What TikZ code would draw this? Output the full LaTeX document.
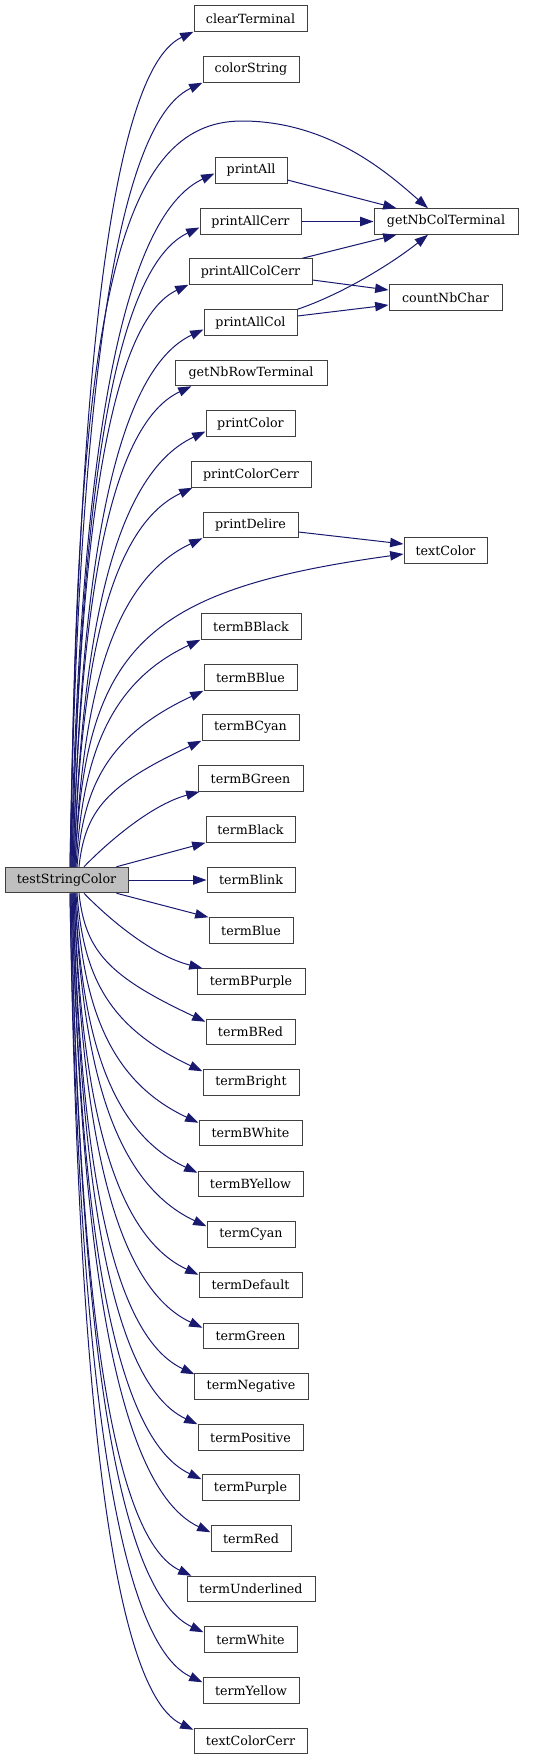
\documentclass[tikz,border=0pt]{standalone}
\usepackage{fontspec}
\setmainfont{DejaVu Serif}
\usetikzlibrary{arrows.meta,calc}
\definecolor{edgecol}{HTML}{191970}
\definecolor{nodeborder}{HTML}{404040}
\definecolor{srcfill}{HTML}{BFBFBF}
% fan edge: #1 start, #2 end, #3 = 1 (target above) or -1 (target below)
\newcommand\fanedge[3]{%
  \draw[calls] let \p1=(#1), \p2=(#2) in (\p1) .. controls ({\x1+0.05*(\x2-\x1)},{\y1+0.45*(\y2-\y1)}) and ({\x2-0.77*(\x2-\x1)},{\y2-(#3)*0.36*(\x2-\x1)}) .. (\p2);}
\begin{document}
\begin{tikzpicture}[x=0.75pt,y=-0.75pt,
  fn/.style={draw=nodeborder, line width=0.75pt, fill=white, rectangle,
    minimum height=25.5*0.75pt, inner sep=0pt, minimum width=#1*0.75pt,
    font=\fontsize{9.5pt}{11pt}\selectfont},
  calls/.style={draw=edgecol, line width=0.75pt, -{Triangle[length=10pt,width=7pt]}}]
\useasboundingbox (0,0) rectangle (533,1760);
% nodes
\node[fn=123, fill=srcfill] (src) at (66.5,880) {testStringColor};
\node[fn=113] (clearTerminal) at (250.5,18.5) {clearTerminal};
\node[fn=96] (colorString) at (251,69.5) {colorString};
\node[fn=72] (printAll) at (251,170.5) {printAll};
\node[fn=101] (printAllCerr) at (250.5,221.5) {printAllCerr};
\node[fn=144] (getNbColTerminal) at (446,221.5) {getNbColTerminal};
\node[fn=123] (printAllColCerr) at (250.5,271.5) {printAllColCerr};
\node[fn=113] (countNbChar) at (445.5,297.5) {countNbChar};
\node[fn=93] (printAllCol) at (250.5,322.5) {printAllCol};
\node[fn=152] (getNbRowTerminal) at (251,373) {getNbRowTerminal};
\node[fn=89] (printColor) at (250.5,423.5) {printColor};
\node[fn=120] (printColorCerr) at (251,474.5) {printColorCerr};
\node[fn=95] (printDelire) at (250.5,525) {printDelire};
\node[fn=83] (textColor) at (445.5,550.5) {textColor};
\node[fn=100] (termBBlack) at (251,626.5) {termBBlack};
\node[fn=93] (termBBlue) at (250.5,677.5) {termBBlue};
\node[fn=97] (termBCyan) at (250.5,727.5) {termBCyan};
\node[fn=105] (termBGreen) at (250.5,778.5) {termBGreen};
\node[fn=89] (termBlack) at (250.5,829.5) {termBlack};
\node[fn=88] (termBlink) at (251,880) {termBlink};
\node[fn=84] (termBlue) at (251,930.5) {termBlue};
\node[fn=108] (termBPurple) at (251,981.5) {termBPurple};
\node[fn=89] (termBRed) at (250.5,1032) {termBRed};
\node[fn=96] (termBright) at (251,1082.5) {termBright};
\node[fn=103] (termBWhite) at (250.5,1133) {termBWhite};
\node[fn=105] (termBYellow) at (250.5,1184) {termBYellow};
\node[fn=88] (termCyan) at (251,1234.5) {termCyan};
\node[fn=103] (termDefault) at (250.5,1285) {termDefault};
\node[fn=95] (termGreen) at (250.5,1336) {termGreen};
\node[fn=114] (termNegative) at (251,1386.5) {termNegative};
\node[fn=105] (termPositive) at (250.5,1437.5) {termPositive};
\node[fn=97] (termPurple) at (250.5,1487.5) {termPurple};
\node[fn=80] (termRed) at (251,1538.5) {termRed};
\node[fn=128] (termUnderlined) at (251,1589) {termUnderlined};
\node[fn=93] (termWhite) at (250.5,1639.5) {termWhite};
\node[fn=96] (termYellow) at (251,1690.5) {termYellow};
\node[fn=113] (textColorCerr) at (250.5,1741) {textColorCerr};
% upward fan
\fanedge{$(src.north)+(3.5,0)$}{clearTerminal.south west}{1}
\fanedge{$(src.north)+(3.5,0)$}{colorString.south west}{1}
\fanedge{$(src.north)+(4.5,0)$}{$(printAll.west)+(0,3)$}{1}
\fanedge{$(src.north)+(5.5,0)$}{$(printAllCerr.west)+(0,6)$}{1}
\fanedge{$(src.north)+(5.5,0)$}{printAllColCerr.south west}{1}
\fanedge{$(src.north)+(6.5,0)$}{$(printAllCol.west)+(0,7)$}{1}
\fanedge{$(src.north)+(6.5,0)$}{$(getNbRowTerminal.south west)+(17,0)$}{1}
\fanedge{$(src.north)+(7.5,0)$}{$(printColor.west)+(0,8)$}{1}
\fanedge{$(src.north)+(7.5,0)$}{$(printColorCerr.south west)+(2,0)$}{1}
\fanedge{$(src.north)+(8.5,0)$}{printDelire.south west}{1}
\fanedge{$(src.north)+(9.5,0)$}{termBBlack.south west}{1}
\fanedge{$(src.north)+(10.5,0)$}{termBBlue.south west}{1}
\fanedge{$(src.north)+(12.5,0)$}{termBCyan.south west}{1}
\draw[calls] ($(src.north)+(4.5,0)$) .. controls (75,300) and (120,121) .. (242,121)
  .. controls (330,121) and (390,175) .. ($(getNbColTerminal.north)+(-18,0)$);
\draw[calls] ($(src.north)+(8.5,0)$) .. controls (85,650) and (140,590) .. ($(textColor.west)+(0,3.5)$);
\draw[calls] ($(src.north)+(17.5,0)$) .. controls (105,845) and (150,805) .. ($(termBGreen.south west)+(2,0)$);
\draw[calls] ($(src.north east)+(-12,0)$) -- (termBlack.south west);
\draw[calls] (src.east) -- (termBlink.west);
\draw[calls] ($(src.south east)+(-12,0)$) -- (termBlue.north west);
\draw[calls] ($(src.south)+(17.5,0)$) .. controls (105,915) and (150,955) .. ($(termBPurple.north west)+(6,0)$);
% downward fan
\fanedge{$(src.south)+(12.5,0)$}{$(termBRed.north west)+(0,3)$}{-1}
\fanedge{$(src.south)+(10.5,0)$}{$(termBright.north west)+(0,2)$}{-1}
\fanedge{$(src.south)+(9.5,0)$}{$(termBWhite.north west)+(0,3)$}{-1}
\fanedge{$(src.south)+(8.5,0)$}{$(termBYellow.north west)+(0,2)$}{-1}
\fanedge{$(src.south)+(8.5,0)$}{$(termCyan.north west)+(0,5)$}{-1}
\fanedge{$(src.south)+(7.5,0)$}{$(termDefault.north west)+(0,3)$}{-1}
\fanedge{$(src.south)+(7.5,0)$}{$(termGreen.north west)+(0,5)$}{-1}
\fanedge{$(src.south)+(6.5,0)$}{$(termNegative.north west)+(1,1)$}{-1}
\fanedge{$(src.south)+(6.5,0)$}{termPositive.north west}{-1}
\fanedge{$(src.south)+(5.5,0)$}{$(termPurple.north west)+(0,5)$}{-1}
\fanedge{$(src.south)+(5.5,0)$}{$(termRed.north west)+(0,7)$}{-1}
\fanedge{$(src.south)+(4.5,0)$}{$(termUnderlined.north west)+(5,0)$}{-1}
\fanedge{$(src.south)+(4.5,0)$}{$(termWhite.north west)+(0,6)$}{-1}
\fanedge{$(src.south)+(3.5,0)$}{$(termYellow.north west)+(0,5)$}{-1}
\fanedge{$(src.south)+(3.5,0)$}{$(textColorCerr.north west)+(0,2)$}{-1}
% second-level calls
\draw[calls] ($(printAll.east)+(0,9.5)$) -- ($(getNbColTerminal.north west)+(23,0)$);
\draw[calls] (printAllCerr.east) -- (getNbColTerminal.west);
\draw[calls] ($(printAllColCerr.north east)+(-10,0)$) -- ($(getNbColTerminal.south west)+(23,0)$);
\draw[calls] ($(printAllColCerr.east)+(0,8.5)$) -- ($(countNbChar.west)+(0,-7.5)$);
\draw[calls] (printAllCol.north east) .. controls (340,295) and (390,265) .. ($(getNbColTerminal.south)+(-18,0)$);
\draw[calls] ($(printAllCol.east)+(0,-6.5)$) -- ($(countNbChar.west)+(0,7.5)$);
\draw[calls] ($(printDelire.east)+(0,7)$) -- ($(textColor.west)+(0,-6.5)$);
\end{tikzpicture}
\end{document}
